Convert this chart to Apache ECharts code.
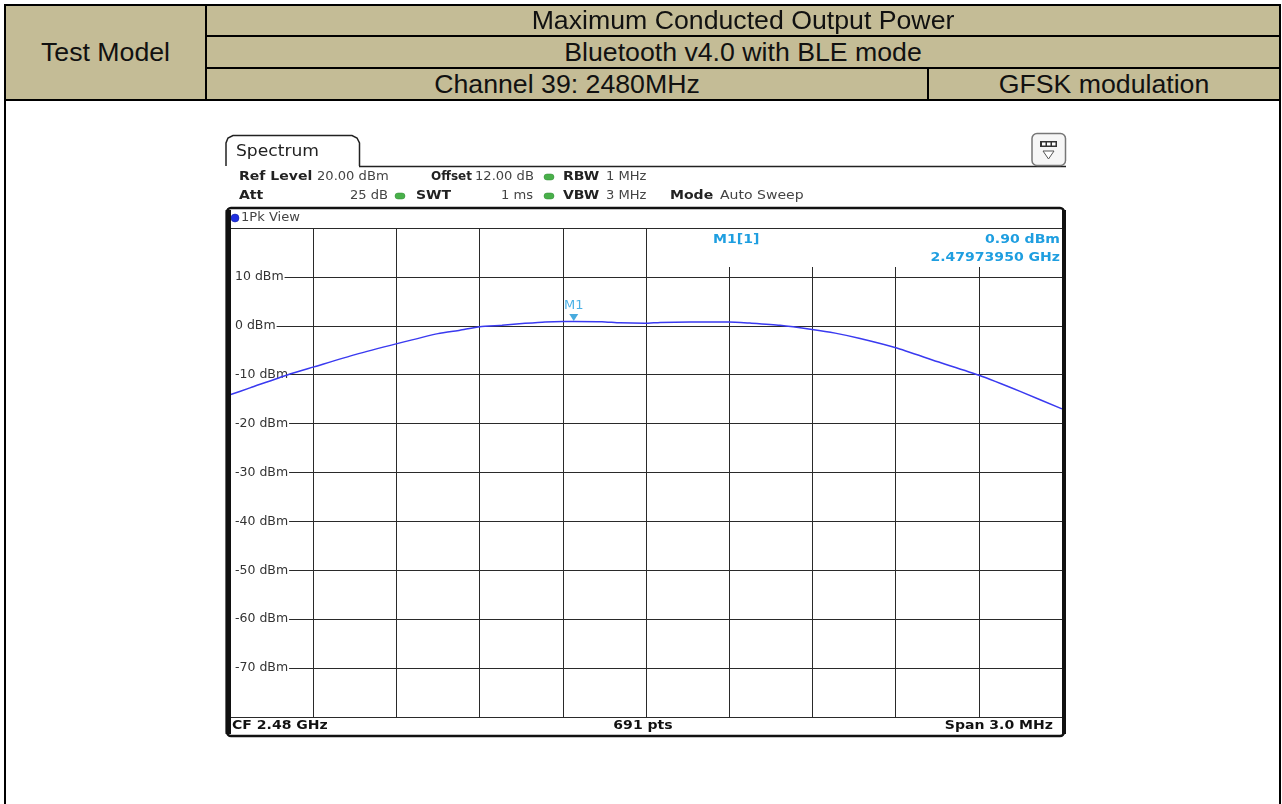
<!DOCTYPE html>
<html>
<head>
<meta charset="utf-8">
<script src="https://cdn.jsdelivr.net/npm/echarts@6/dist/echarts.min.js"></script>
<style>
  html, body { margin: 0; padding: 0; background: #fff; }
  #page { position: relative; width: 1282px; height: 804px; overflow: hidden; }
  #chart { position: absolute; left: 0; top: 0; width: 1282px; height: 804px; }
  .ln { position: absolute; background: #000; }
  .cell {
    position: absolute; background: #c4bc96; color: #111;
    font-family: "Liberation Sans", Arial, sans-serif; font-size: 26.7px;
    display: flex; align-items: center; justify-content: center;
  }
</style>
</head>
<body>
<div id="page">
  <div id="chart"></div>
  <!-- table header -->
  <div class="cell" style="left:6px;top:6px;width:199px;height:93px;">Test Model</div>
  <div class="cell" style="left:207px;top:6px;width:1072px;height:29px;">Maximum Conducted Output Power</div>
  <div class="cell" style="left:207px;top:37px;width:1072px;height:30px;">Bluetooth v4.0 with BLE mode</div>
  <div class="cell" style="left:207px;top:69px;width:720px;height:30px;">Channel 39: 2480MHz</div>
  <div class="cell" style="left:929px;top:69px;width:350px;height:30px;">GFSK modulation</div>
  <div class="ln" style="left:4px;top:4px;width:1277px;height:2px;"></div>
  <div class="ln" style="left:4px;top:4px;width:2px;height:800px;"></div>
  <div class="ln" style="left:1279px;top:4px;width:2px;height:800px;"></div>
  <div class="ln" style="left:205px;top:4px;width:2px;height:96px;"></div>
  <div class="ln" style="left:205px;top:35px;width:1075px;height:2px;"></div>
  <div class="ln" style="left:205px;top:67px;width:1075px;height:2px;"></div>
  <div class="ln" style="left:4px;top:99px;width:1277px;height:2px;"></div>
  <div class="ln" style="left:927px;top:67px;width:2px;height:33px;"></div>
</div>
<script>
// trace: offset from CF 2.48 GHz (kHz) and level (dBm)
var freqOffsetKHz = [-1500, -1428, -1291, -1197, -1049, -901, -750, -671, -599, -519,
  -436, -364, -299, -260, -159, -94, -4, 51, 159, 299,
  375, 483, 599, 682, 772, 901, 1049, 1201, 1349, 1500];
var levelDbm = [-14.1, -12.7, -10.0, -8.4, -5.9, -3.7, -1.6, -0.9, -0.2, 0.1,
  0.5, 0.8, 0.9, 0.9, 0.85, 0.6, 0.5, 0.7, 0.8, 0.8,
  0.55, 0.1, -0.75, -1.5, -2.6, -4.5, -7.3, -10.1, -13.4, -17.0];
var yTickValues = [10, 0, -10, -20, -30, -40, -50, -60, -70];
var yTickLabels = ['10 dBm', '0 dBm', '-10 dBm', '-20 dBm', '-30 dBm', '-40 dBm', '-50 dBm', '-60 dBm', '-70 dBm'];
var markerFreqKHz = -260.5;
var markerLevel = 0.90;

var trace = freqOffsetKHz.map(function (f, i) { return [f, levelDbm[i]]; });

var FONT = '"DejaVu Sans", Verdana, sans-serif';
var BLUE_TXT = '#1e9ee0';
var SX = 1.17; // the instrument screenshot is a bit stretched sideways

function txt(x, y, s, opt) {
  opt = opt || {};
  return {
    type: 'text', z: 10, x: x, y: y, scaleX: opt.sx || SX,
    style: {
      x: 0, y: 0, text: s,
      fill: opt.color || '#222',
      font: (opt.bold ? 'bold ' : '') + (opt.size || 12) + 'px ' + FONT,
      textAlign: opt.align || 'left',
      textVerticalAlign: 'middle'
    }
  };
}
function dot(cx, cy) {
  return { type: 'rect', z: 10, shape: { x: cx - 5, y: cy - 3, width: 10, height: 6, r: 3 },
    style: { fill: '#49b04a', stroke: '#2f8a33', lineWidth: 0.5 } };
}

var chart = echarts.init(document.getElementById('chart'));
chart.setOption({
  animation: false,
  grid: { left: 230, top: 228, width: 832, height: 489 },
  xAxis: {
    type: 'value', min: -1500, max: 1500, interval: 300,
    axisLine: { show: false }, axisTick: { show: false }, axisLabel: { show: false },
    splitLine: { lineStyle: { color: '#2a2a2a', width: 1 } }
  },
  yAxis: {
    type: 'value', min: -80, max: 20, interval: 10,
    axisLine: { show: false }, axisTick: { show: false },
    axisLabel: {
      inside: true, margin: 1, color: '#333', fontSize: 12.5, fontFamily: FONT,
      backgroundColor: '#fff', padding: [1, 1, 1, 4],
      showMinLabel: false, showMaxLabel: false,
      formatter: function (v) {
        var i = yTickValues.indexOf(v);
        return i < 0 ? '' : yTickLabels[i];
      }
    },
    splitLine: { lineStyle: { color: '#2a2a2a', width: 1 } }
  },
  series: [
    {
      type: 'line', data: trace, showSymbol: false, smooth: 0.2,
      lineStyle: { color: '#3a3af0', width: 1.5 }, z: 3
    },
    {
      type: 'scatter', data: [[markerFreqKHz, markerLevel]],
      symbol: 'triangle', symbolRotate: 180, symbolSize: [9, 7], symbolOffset: [0, -4],
      itemStyle: { color: '#1a96d6' }, z: 4,
      label: { show: true, formatter: 'M1', position: 'top', distance: 2,
        color: BLUE_TXT, fontSize: 13, fontFamily: FONT }
    }
  ],
  graphic: [
    // tab and panel top line
    { type: 'polyline', z: 5, shape: { points: [[226, 166], [226, 143], [228, 138], [233, 135.5], [352, 135.5], [357, 138], [359.5, 143], [359.5, 166]] },
      style: { stroke: '#222', lineWidth: 1.5, fill: null } },
    { type: 'line', z: 5, shape: { x1: 359, y1: 166.5, x2: 1066, y2: 166.5 }, style: { stroke: '#222', lineWidth: 1.5 } },
    txt(236, 152, 'Spectrum', { size: 16, sx: 1.07 }),
    // menu icon
    { type: 'rect', z: 6, shape: { x: 1032, y: 133.5, width: 33.5, height: 32, r: 5 }, style: { fill: '#f6f6f6', stroke: '#777', lineWidth: 1.5 } },
    { type: 'rect', z: 7, shape: { x: 1040, y: 141, width: 17, height: 6 }, style: { fill: '#333' } },
    { type: 'rect', z: 8, shape: { x: 1042, y: 142.5, width: 3.5, height: 3 }, style: { fill: '#fff' } },
    { type: 'rect', z: 8, shape: { x: 1047, y: 142.5, width: 3.5, height: 3 }, style: { fill: '#fff' } },
    { type: 'rect', z: 8, shape: { x: 1052, y: 142.5, width: 3.5, height: 3 }, style: { fill: '#fff' } },
    { type: 'polygon', z: 7, shape: { points: [[1043, 151], [1054, 151], [1048.5, 159]] }, style: { fill: '#fff', stroke: '#555', lineWidth: 1 } },
    // settings rows
    txt(239, 177, 'Ref Level', { bold: true }),
    txt(317, 177, '20.00 dBm', { color: '#444', sx: 1.09 }),
    txt(431, 177, 'Offset', { bold: true, sx: 1.0 }),
    txt(475, 177, '12.00 dB', { color: '#444', sx: 1.09 }),
    dot(549, 177),
    txt(563, 177, 'RBW', { bold: true }),
    txt(606, 177, '1 MHz', { color: '#444', sx: 1.09 }),
    txt(239, 196, 'Att', { bold: true }),
    txt(388, 196, '25 dB', { color: '#444', align: 'right', sx: 1.09 }),
    dot(400, 196),
    txt(416, 196, 'SWT', { bold: true }),
    txt(533, 196, '1 ms', { color: '#444', align: 'right', sx: 1.09 }),
    dot(549, 196),
    txt(563, 196, 'VBW', { bold: true }),
    txt(606, 196, '3 MHz', { color: '#444', sx: 1.09 }),
    txt(670, 196, 'Mode', { bold: true }),
    txt(720, 196, 'Auto Sweep', { color: '#444' }),
    // plot frame: thin top, heavy sides and bottom
    { type: 'rect', z: 6, shape: { x: 227, y: 208, width: 837, height: 528, r: 4 },
      style: { fill: null, stroke: '#111', lineWidth: 2.5 } },
    { type: 'rect', z: 6, shape: { x: 225.5, y: 210, width: 5.5, height: 524 }, style: { fill: '#111' } },
    { type: 'rect', z: 6, shape: { x: 1062, y: 210, width: 4, height: 524 }, style: { fill: '#111' } },
    { type: 'circle', z: 10, shape: { cx: 235, cy: 218, r: 4 }, style: { fill: '#2030e0', stroke: '#0a1a9a', lineWidth: 0.5 } },
    txt(241, 218, '1Pk View', { color: '#444', sx: 1.09 }),
    // marker readout box (hides grid behind it)
    { type: 'rect', z: 2, shape: { x: 647, y: 229, width: 414, height: 38 }, style: { fill: '#fff' } },
    txt(713, 240, 'M1[1]', { bold: true, color: BLUE_TXT }),
    txt(1060, 240, '0.90 dBm', { bold: true, color: BLUE_TXT, align: 'right' }),
    txt(1060, 258, '2.47973950 GHz', { bold: true, color: BLUE_TXT, align: 'right' }),
    // footer
    txt(232, 726, 'CF 2.48 GHz', { bold: true, color: '#111' }),
    txt(643, 726, '691 pts', { bold: true, color: '#111', align: 'center' }),
    txt(1053, 726, 'Span 3.0 MHz', { bold: true, color: '#111', align: 'right' })
  ]
});
</script>
</body>
</html>
